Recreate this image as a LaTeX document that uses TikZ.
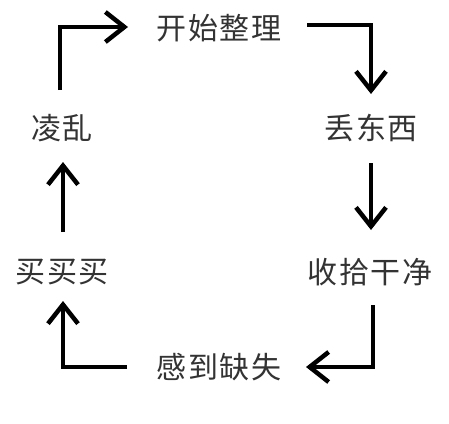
\documentclass[tikz,border=0pt]{standalone}
\usepackage{fontspec}
\newfontfamily\cjk[LetterSpace=5]{Noto Sans CJK SC}
\usetikzlibrary{arrows.meta}
\definecolor{txt}{HTML}{333333}
\tikzset{
  lbl/.style={font=\cjk\fontsize{30pt}{32pt}\selectfont, text=txt, inner sep=0pt, anchor=center},
  flow/.style={line width=4.5pt, black, line join=miter, line cap=butt,
    -{Straight Barb[length=19pt,width=30pt,line join=miter,line cap=butt]}}
}
\begin{document}
\begin{tikzpicture}[x=1pt,y=-1pt]
\useasboundingbox (0,0) rectangle (449,423);
\node[lbl] (start) at (219,28) {开始整理};
\node[lbl] (lose) at (371,128) {丢东西};
\node[lbl] (tidy) at (370,272) {收拾干净};
\node[lbl] (lack) at (219,367) {感到缺失};
\node[lbl] (buy) at (62,272) {买买买};
\node[lbl] (mess) at (62,128) {凌乱};
% connector endpoints
\coordinate (a1) at (60,90);
\coordinate (a1c) at (60,27);
\coordinate (a1e) at (128,27);
\coordinate (a2) at (307,25);
\coordinate (a2c) at (371,25);
\coordinate (a2e) at (371,94);
\coordinate (a3) at (371,163);
\coordinate (a3e) at (371,230);
\coordinate (a4) at (373,305);
\coordinate (a4c) at (373,367);
\coordinate (a4e) at (306,367);
\coordinate (a5) at (127,367);
\coordinate (a5c) at (63,367);
\coordinate (a5e) at (63,301);
\coordinate (a6) at (63,232);
\coordinate (a6e) at (63,162);
\draw[flow] (a1) -- (a1c) -- (a1e);
\draw[flow] (a2) -- (a2c) -- (a2e);
\draw[flow] (a3) -- (a3e);
\draw[flow] (a4) -- (a4c) -- (a4e);
\draw[flow] (a5) -- (a5c) -- (a5e);
\draw[flow] (a6) -- (a6e);
\end{tikzpicture}
\end{document}
